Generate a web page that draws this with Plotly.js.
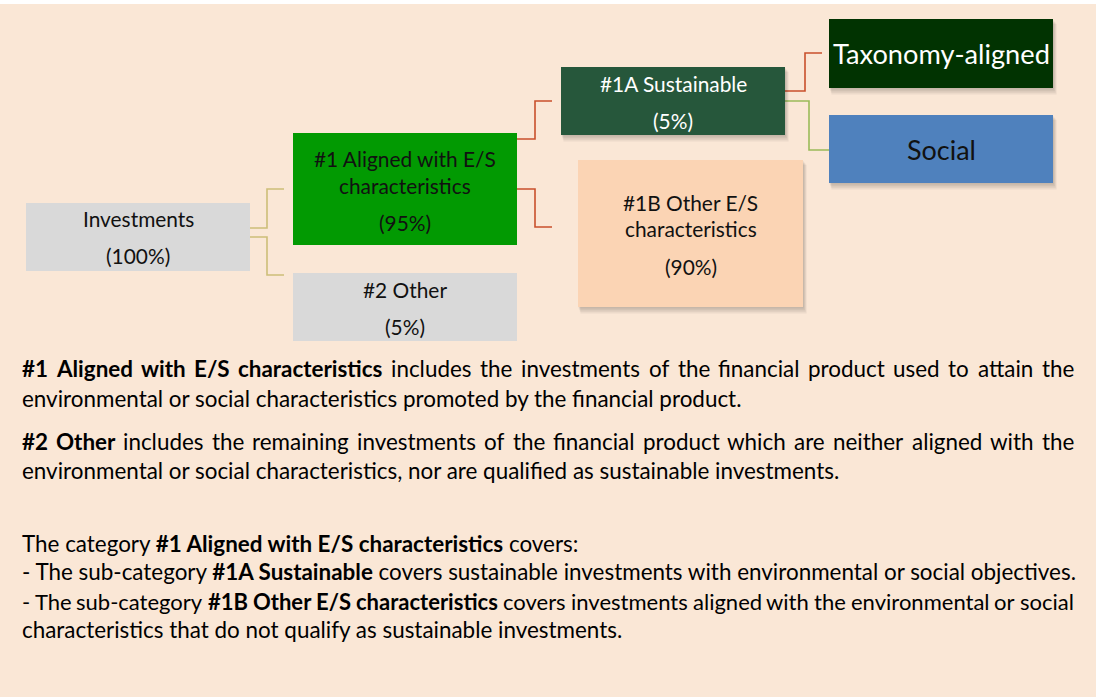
<!DOCTYPE html>
<html>
<head>
<meta charset="utf-8">
<script src="https://cdn.plot.ly/plotly-3.0.1.min.js"></script>
<style>
html,body{margin:0;padding:0;background:#ffffff;}
#chart{width:1099px;height:697px;}
</style>
</head>
<body>
<div id="chart"></div>
<script>
// ---------------- DATA ----------------
const nodeNames = ["Investments", "#1 Aligned with E/S characteristics", "#2 Other", "#1A Sustainable", "#1B Other E/S characteristics", "Taxonomy-aligned", "Social"];
const nodeLabelLines = [["Investments"], ["#1 Aligned with E/S", "characteristics"], ["#2 Other"], ["#1A Sustainable"], ["#1B Other E/S", "characteristics"], ["Taxonomy-aligned"], ["Social"]];
const nodeShares = ["100%", "95%", "5%", "5%", "90%", null, null];
const edgeFrom = [0, 0, 1, 1, 3, 3];
const edgeTo   = [1, 2, 3, 4, 5, 6];

const paragraphLines = [
  [["#1 Aligned with E/S characteristics", true], [" includes the investments of the financial product used to attain the", false]],
  [["environmental or social characteristics promoted by the financial product.", false]],
  [["#2 Other", true], [" includes the remaining investments of the financial product which are neither aligned with the", false]],
  [["environmental or social characteristics, nor are qualified as sustainable investments.", false]],
  [["The category ", false], ["#1 Aligned with E/S characteristics", true], [" covers:", false]],
  [["- The sub-category ", false], ["#1A Sustainable", true], [" covers sustainable investments with environmental or social objectives.", false]],
  [["- The sub-category ", false], ["#1B Other E/S characteristics", true], [" covers investments aligned with the environmental or social", false]],
  [["characteristics that do not qualify as sustainable investments.", false]]
];

// ---------------- LAYOUT / STYLE ----------------
const FONT = "Lato";
const BG = "#FAE7D6";
const nodeStyle = [
  {x0:26,  x1:250,  y0:203, y1:271, fill:"#D9D9D9", color:"#111111", shadow:false, lineYs:[218], shareY:255},
  {x0:293, x1:517,  y0:133, y1:245, fill:"#029A02", color:"#111111", shadow:false, lineYs:[158,185], shareY:222},
  {x0:293, x1:517,  y0:273, y1:341, fill:"#D9D9D9", color:"#111111", shadow:false, lineYs:[289], shareY:326},
  {x0:561, x1:785,  y0:67,  y1:135, fill:"#26573B", color:"#FFFFFF", shadow:true,  lineYs:[83], shareY:120},
  {x0:578, x1:803,  y0:160, y1:307, fill:"#FBD4B4", color:"#111111", shadow:true,  lineYs:[202,228], shareY:266},
  {x0:829, x1:1053, y0:19,  y1:88,  fill:"#013301", color:"#FFFFFF", shadow:true,  lineYs:[53], big:217},
  {x0:829, x1:1053, y0:115, y1:183, fill:"#4F81BD", color:"#111111", shadow:true,  lineYs:[149], big:69}
];
const edgeStyle = [
  {sx:250, sy:228, mx:267, ey:189, ex:284, color:"#CDBE78"},
  {sx:250, sy:237, mx:267, ey:275, ex:284, color:"#CDBE78"},
  {sx:517, sy:139, mx:535, ey:101, ex:552, color:"#C9502C"},
  {sx:517, sy:189, mx:535, ey:227, ex:552, color:"#C9502C"},
  {sx:785, sy:91,  mx:805, ey:53,  ex:822, color:"#C9502C"},
  {sx:785, sy:101, mx:809, ey:150, ex:829, color:"#9BBB59"}
];
const paraY = [368, 398, 441, 470, 543, 571, 601, 629];
const paraJustify = [true, false, true, false, false, false, true, false];
const TEXT_L = 22, TEXT_R = 1074;
const MIN_GAP = 4.8;

const cv = document.createElement("canvas").getContext("2d");
function tw(text, size, bold){ cv.font = (bold ? "bold " : "") + size + "px " + FONT; return cv.measureText(text).width; }
function fit(text, target, bold){ return 20 * target / tw(text, 20, bold); }

function draw(){
  const shapes = [];
  const annotations = [];
  shapes.push({type:"rect", xref:"x", yref:"y", x0:0, x1:1096, y0:4, y1:697, fillcolor:BG, line:{width:0}, layer:"below"});

  // connectors
  edgeFrom.forEach((f, i) => {
    const e = edgeStyle[i];
    shapes.push({type:"path", xref:"x", yref:"y",
      path:`M ${e.sx} ${e.sy} L ${e.mx} ${e.sy} L ${e.mx} ${e.ey} L ${e.ex} ${e.ey}`,
      line:{color:e.color, width:1.6}});
  });

  const nodeSize = fit(nodeLabelLines[1][0], 183, false);
  // nodes
  nodeNames.forEach((name, i) => {
    const s = nodeStyle[i];
    if (s.shadow) {
      for (let k = 1; k <= 4; k++) {
        shapes.push({type:"rect", xref:"x", yref:"y", x0:s.x0 + k*0.6, x1:s.x1 + k*0.9, y0:s.y0 + k*1.2, y1:s.y1 + k*1.6,
          fillcolor:"rgba(0,0,0,0.055)", line:{width:0}});
      }
    }
    shapes.push({type:"rect", xref:"x", yref:"y", x0:s.x0, x1:s.x1, y0:s.y0, y1:s.y1, fillcolor:s.fill, line:{width:0}});
    const cx = (s.x0 + s.x1) / 2;
    const size = s.big ? fit(nodeLabelLines[i][0], s.big, false) : nodeSize;
    nodeLabelLines[i].forEach((t, j) => {
      annotations.push({x:cx, y:s.lineYs[j], xref:"x", yref:"y", text:t, showarrow:false, xanchor:"center", yanchor:"middle",
        borderpad:0, borderwidth:0, font:{family:FONT, size:size, color:s.color}});
    });
    if (nodeShares[i]) {
      annotations.push({x:cx, y:s.shareY, xref:"x", yref:"y", text:"(" + nodeShares[i] + ")", showarrow:false, xanchor:"center", yanchor:"middle",
        borderpad:0, borderwidth:0, font:{family:FONT, size:nodeSize, color:s.color}});
    }
  });

  // paragraphs
  const bodySize = fit(paragraphLines[1][0][0], 721, false);
  paragraphLines.forEach((segs, li) => {
    const y = paraY[li];
    if (paraJustify[li]) {
      const words = [];
      segs.forEach(([t, b]) => t.split(" ").filter(w => w.length).forEach(w => words.push([w, b])));
      let size = bodySize;
      let widths, sum, gap;
      for (let it = 0; it < 60; it++) {
        widths = words.map(([w, b]) => tw(w, size, b));
        sum = widths.reduce((a, b) => a + b, 0);
        gap = (TEXT_R - TEXT_L - sum) / (words.length - 1);
        if (gap >= MIN_GAP) break;
        size -= 0.05;
      }
      let x = TEXT_L;
      words.forEach(([w, b], k) => {
        annotations.push({x:x + widths[k] / 2, y:y, xref:"x", yref:"y", text:b ? "<b>" + w + "</b>" : w, showarrow:false,
          xanchor:"center", yanchor:"middle", borderpad:0, borderwidth:0, font:{family:FONT, size:size, color:"#000000"}});
        x += widths[k] + gap;
      });
    } else {
      const txt = segs.map(([t, b]) => b ? "<b>" + t + "</b>" : t).join("");
      annotations.push({x:TEXT_L, y:y, xref:"x", yref:"y", text:txt, showarrow:false, xanchor:"left", yanchor:"middle",
        borderpad:0, borderwidth:0, align:"left", font:{family:FONT, size:bodySize, color:"#000000"}});
    }
  });

  const layout = {
    width:1099, height:697,
    margin:{l:0, r:0, t:0, b:0, pad:0},
    paper_bgcolor:"#FFFFFF", plot_bgcolor:"#FFFFFF",
    xaxis:{range:[0, 1099], visible:false, fixedrange:true},
    yaxis:{range:[697, 0], visible:false, fixedrange:true},
    showlegend:false,
    shapes:shapes,
    annotations:annotations
  };
  Plotly.newPlot("chart", [], layout, {staticPlot:true, displayModeBar:false});
}

if (document.fonts && document.fonts.load) {
  Promise.all([document.fonts.load("20px " + FONT), document.fonts.load("bold 20px " + FONT)]).then(draw, draw);
} else { draw(); }
</script>
</body>
</html>
